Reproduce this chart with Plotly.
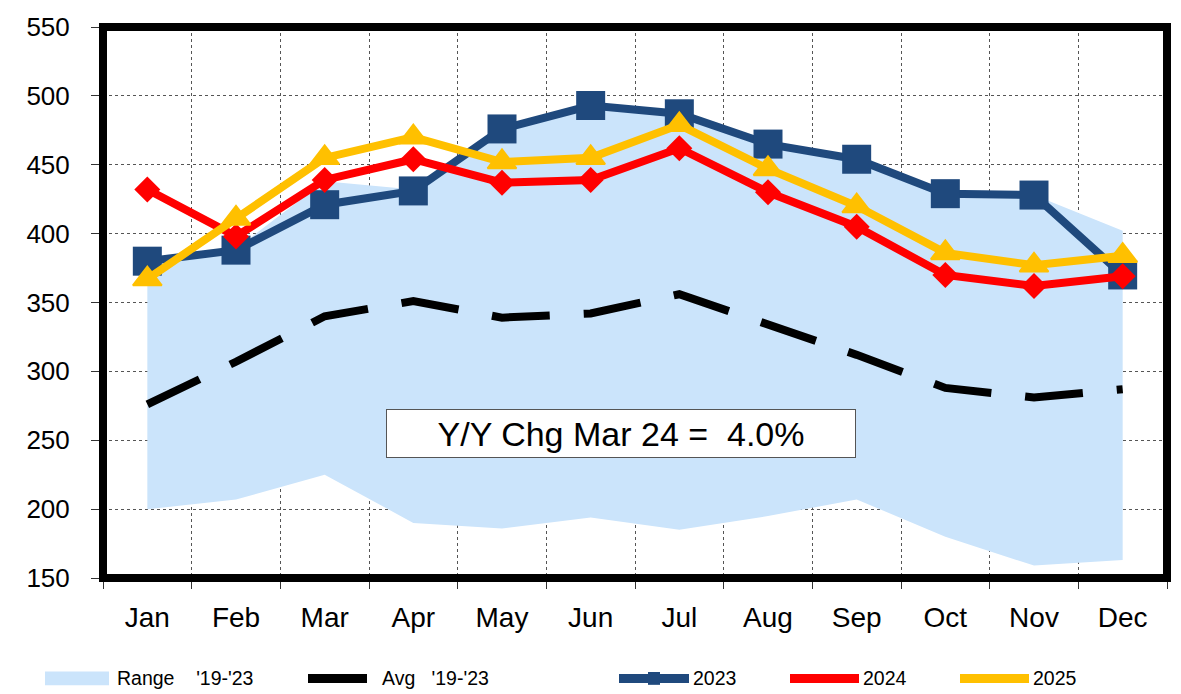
import plotly.graph_objects as go

months = ["Jan", "Feb", "Mar", "Apr", "May", "Jun", "Jul", "Aug", "Sep", "Oct", "Nov", "Dec"]
range_low = [200, 207, 225, 190, 186, 194, 185, 195, 207, 180, 159, 163]
range_high = [381, 389, 438, 432, 477, 494, 487, 466, 454, 430, 428, 402]
avg_19_23 = [276, 307, 340, 351, 339, 342, 356, 334, 312, 288, 281, 287]
y2023 = [380, 388, 421, 431, 476, 493, 487, 465, 454, 429, 428, 370]
y2024 = [432, 398, 439, 454, 437, 439, 462, 430, 405, 370, 362, 369]
y2025 = [367, 411, 455, 470, 452, 455, 479, 447, 420, 386, 377, 384]
y_ticks = [150, 200, 250, 300, 350, 400, 450, 500, 550]
note_text = "Y/Y Chg Mar 24 =\u00a0\u00a04.0%"
series_names = ["Range\u00a0\u00a0\u00a0\u00a0'19-'23", "Avg\u00a0\u00a0\u00a0'19-'23", "2023", "2024", "2025"]

FONT = "Liberation Sans, Arial, sans-serif"
W, H = 1181, 694
ML, MR, MT, MB = 103, 14, 21, 116
PW = W - ML - MR
PH = H - MT - MB

C_RANGE = "#CBE4FB"
C_AVG = "black"
C_2023 = "#1F497D"
C_2024 = "#FF0000"
C_2025 = "#FFC000"


def px_x(px):
    return (px - ML) / PW


def px_y(py):
    return (H - MB - py) / PH


fig = go.Figure()

fig.add_trace(go.Scatter(
    x=months + months[::-1],
    y=range_high + range_low[::-1],
    fill="toself", mode="none", fillcolor=C_RANGE,
    name=series_names[0], hoverinfo="skip",
))
fig.add_trace(go.Scatter(
    x=months, y=avg_19_23, mode="lines",
    line=dict(color=C_AVG, width=8, dash="58px,34px"),
    name=series_names[1],
))
fig.add_trace(go.Scatter(
    x=months, y=y2023, mode="lines+markers",
    line=dict(color=C_2023, width=8),
    marker=dict(symbol="square", size=29, color=C_2023),
    name=series_names[2],
))
fig.add_trace(go.Scatter(
    x=months, y=y2024, mode="lines+markers",
    line=dict(color=C_2024, width=8),
    marker=dict(symbol="diamond", size=20, color=C_2024),
    name=series_names[3],
))
fig.add_trace(go.Scatter(
    x=months, y=y2025, mode="lines+markers",
    line=dict(color=C_2025, width=8),
    marker=dict(symbol="triangle-up", size=25, color=C_2025,
                line=dict(color=C_2025, width=2)),
    name=series_names[4],
))

# ---- legend drawn below the chart (swatches + labels) ----
LEG_Y = 679.5
shapes = [dict(
    type="rect", xref="paper", yref="paper", x0=0, x1=1, y0=0, y1=1,
    line=dict(color="black", width=8), layer="above",
)]
annotations = [dict(
    xref="paper", yref="paper",
    x=px_x(621), y=px_y(431.5),
    xanchor="center", yanchor="middle",
    text=note_text, showarrow=False,
    font=dict(family=FONT, size=34, color="black"),
    bgcolor="white", bordercolor="#555", borderwidth=1, borderpad=1,
    width=466, height=45,
)]

# Range swatch
shapes.append(dict(type="rect", xref="paper", yref="paper",
                   x0=px_x(45), x1=px_x(109), y0=px_y(686.5), y1=px_y(672.5),
                   fillcolor=C_RANGE, line=dict(width=0), layer="above"))
# line swatches
for (x0, x1, col) in [(308, 367, C_AVG), (619, 689, C_2023), (790, 859, C_2024), (960, 1029, C_2025)]:
    shapes.append(dict(type="line", xref="paper", yref="paper",
                       x0=px_x(x0), x1=px_x(x1), y0=px_y(LEG_Y), y1=px_y(LEG_Y),
                       line=dict(color=col, width=9), layer="above"))
# 2023 square marker in legend
shapes.append(dict(type="rect", xref="paper", yref="paper",
                   x0=px_x(648), x1=px_x(660), y0=px_y(686), y1=px_y(673),
                   fillcolor=C_2023, line=dict(width=0), layer="above"))

for name, x_text in zip(series_names, [115, 380, 691, 861, 1031]):
    annotations.append(dict(
        xref="paper", yref="paper", x=px_x(x_text), y=px_y(LEG_Y),
        xanchor="left", yanchor="middle", text=name, showarrow=False,
        font=dict(family=FONT, size=19.5, color="black"),
    ))

fig.update_layout(
    width=W, height=H,
    margin=dict(l=ML, r=MR, t=MT, b=MB, pad=0),
    paper_bgcolor="white", plot_bgcolor="white",
    font=dict(family=FONT, color="black"),
    showlegend=False,
    xaxis=dict(
        type="category", categoryorder="array", categoryarray=months,
        range=[-0.5, 11.5], tickson="boundaries",
        ticks="outside", ticklen=10, tickwidth=1, tickcolor="#333",
        showgrid=True, gridcolor="#555", gridwidth=1, griddash="3px,3px",
        tickfont=dict(family=FONT, size=28, color="black"),
        ticklabelstandoff=20,
        showline=False, zeroline=False,
    ),
    yaxis=dict(
        range=[150, 550], tickmode="array", tickvals=y_ticks,
        ticks="outside", ticklen=11, tickwidth=1, tickcolor="#333",
        showgrid=True, gridcolor="#555", gridwidth=1, griddash="3px,3px",
        tickfont=dict(family=FONT, size=26, color="black"),
        ticklabelstandoff=16,
        showline=False, zeroline=False,
    ),
    shapes=shapes,
    annotations=annotations,
)

fig.write_html("out.html", config={"displayModeBar": False},
               post_script="document.body.style.margin='0';")
